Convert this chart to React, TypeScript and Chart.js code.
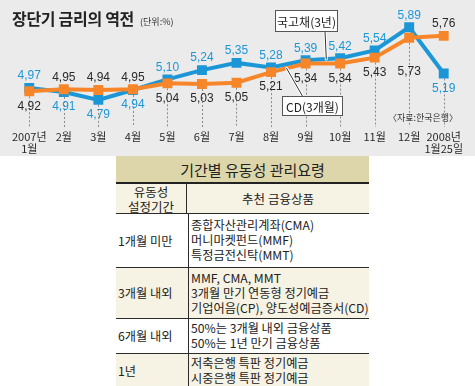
import React, { useEffect, useRef } from "react";
import { Chart, registerables } from "chart.js";

Chart.register(...registerables);

const months: (string | string[])[] = [
  ["2007년", "1월"], "2월", "3월", "4월", "5월", "6월", "7월", "8월", "9월", "10월", "11월", "12월", ["2008년", "1월25일"],
];
const treasury3y = [4.97, 4.91, 4.79, 4.94, 5.1, 5.24, 5.35, 5.28, 5.39, 5.42, 5.54, 5.89, 5.19];
const cd3m = [4.92, 4.95, 4.94, 4.95, 5.04, 5.03, 5.05, 5.21, 5.34, 5.34, 5.43, 5.73, 5.76];
const seriesNames = ["국고채(3년)", "CD(3개월)"];

const tableTitle = "기간별 유동성 관리요령";
const tableHeader = [["유동성", "설정기간"], ["추천 금융상품"]];
const tablePeriods = ["1개월 미만", "3개월 내외", "6개월 내외", "1년"];
const tableProducts = [
  ["종합자산관리계좌(CMA)", "머니마켓펀드(MMF)", "특정금전신탁(MMT)"],
  ["MMF, CMA, MMT", "3개월 만기 연동형 정기예금", "기업어음(CP), 양도성예금증서(CD)"],
  ["50%는 3개월 내외 금융상품", "50%는 1년 만기 금융상품"],
  ["저축은행 특판 정기예금", "시중은행 특판 정기예금"],
];

const BLUE = "#1b97d8";
const ORANGE = "#f7862a";
const FONT = "'Liberation Sans', 'Noto Sans CJK KR', sans-serif";
const KFONT = "'Noto Sans CJK KR', 'Liberation Sans', sans-serif";

const fmt = (v: number) => v.toFixed(2).replace(".", ",");

const overlayPlugin = {
  id: "overlay",
  beforeDatasetsDraw(chart: any) {
    const { ctx, scales } = chart;
    const x = scales.x, y = scales.y;
    ctx.save();
    ctx.strokeStyle = "#8a8a8a";
    ctx.lineWidth = 1;
    ctx.setLineDash([2, 2]);
    for (let i = 0; i < months.length; i++) {
      const px = Math.round(x.getPixelForValue(i)) + 0.5;
      const low = Math.min(treasury3y[i], cd3m[i]);
      ctx.beginPath();
      ctx.moveTo(px, y.getPixelForValue(low) + 5);
      ctx.lineTo(px, chart.chartArea.bottom + 8);
      ctx.stroke();
    }
    ctx.restore();
  },
  afterDatasetsDraw(chart: any) {
    const { ctx, scales } = chart;
    const x = scales.x, y = scales.y;
    ctx.save();
    ctx.textAlign = "center";
    ctx.textBaseline = "middle";
    ctx.font = `12px ${FONT}`;
    for (let i = 0; i < months.length; i++) {
      const px = x.getPixelForValue(i);
      const b = treasury3y[i], c = cd3m[i];
      const blueAbove = b >= c;
      const by = y.getPixelForValue(b) + (blueAbove ? -12 : 15);
      const cy = y.getPixelForValue(c) + (blueAbove ? (i === 11 ? 34 : 15) : -12);
      ctx.fillStyle = BLUE;
      ctx.fillText(fmt(b), px, by);
      ctx.fillStyle = "#2a2a2a";
      ctx.fillText(fmt(c), px, cy);
    }

    const interp = (arr: number[], i: number, t: number) => ({
      x: x.getPixelForValue(i) + t * (x.getPixelForValue(i + 1) - x.getPixelForValue(i)),
      y: y.getPixelForValue(arr[i] + t * (arr[i + 1] - arr[i])),
    });
    const leader = (x1: number, y1: number, x2: number, y2: number) => {
      ctx.lineCap = "round";
      ctx.strokeStyle = "#ffffff";
      ctx.lineWidth = 3;
      ctx.beginPath(); ctx.moveTo(x1, y1); ctx.lineTo(x2, y2); ctx.stroke();
      ctx.strokeStyle = "#333333";
      ctx.lineWidth = 1;
      ctx.beginPath(); ctx.moveTo(x1, y1); ctx.lineTo(x2, y2); ctx.stroke();
    };
    const box = (bx: number, by: number, bw: number, bh: number, text: string) => {
      ctx.fillStyle = "#ffffff";
      ctx.fillRect(bx, by, bw, bh);
      ctx.strokeStyle = "#555555";
      ctx.lineWidth = 1;
      ctx.strokeRect(bx + 0.5, by + 0.5, bw - 1, bh - 1);
      ctx.fillStyle = "#222222";
      ctx.font = `12px ${KFONT}`;
      ctx.fillText(text, bx + bw / 2, by + bh / 2 + 1);
    };
    const p1 = interp(treasury3y, 8, 0.6);
    leader(325, 31, p1.x, p1.y);
    box(275, 10, 63, 22, seriesNames[0]);
    const p2 = interp(cd3m, 7, 0.45);
    leader(303, 97, p2.x, p2.y);
    box(282, 96, 61, 20, seriesNames[1]);

    ctx.fillStyle = "#333";
    ctx.font = `9px ${KFONT}`;
    ctx.fillText("〈자료:한국은행〉", 423, 118);
    ctx.restore();
  },
};

function LineChart() {
  const ref = useRef<HTMLCanvasElement>(null);
  useEffect(() => {
    if (!ref.current) return;
    const chart = new Chart(ref.current, {
      type: "line",
      data: {
        labels: months,
        datasets: [
          {
            label: seriesNames[1],
            data: cd3m,
            borderColor: ORANGE,
            backgroundColor: ORANGE,
            borderWidth: 4,
            pointStyle: "rect",
            pointRadius: 7,
            pointBorderWidth: 0,
            tension: 0,
            order: 0,
          },
          {
            label: seriesNames[0],
            data: treasury3y,
            borderColor: BLUE,
            backgroundColor: BLUE,
            borderWidth: 4,
            pointStyle: "rect",
            pointRadius: 7,
            pointBorderWidth: 0,
            tension: 0,
            order: 1,
          },
        ],
      },
      options: {
        responsive: false,
        animation: false,
        devicePixelRatio: 1,
        layout: { padding: { top: 20, left: 20, right: 19, bottom: 0 } },
        plugins: { legend: { display: false }, tooltip: { enabled: false }, title: { display: false } },
        scales: {
          x: {
            offset: false,
            grid: { display: false, drawTicks: false },
            border: { display: false },
            ticks: {
              padding: 12,
              color: "#2a2a2a",
              font: { size: 11, family: KFONT, lineHeight: 1.1 },
              maxRotation: 0,
              autoSkip: false,
            },
            afterFit: (s: any) => { s.height = 37; },
          },
          y: { display: false, min: 4.5, max: 6.0 },
        },
      },
      plugins: [overlayPlugin],
    } as any);
    return () => chart.destroy();
  }, []);
  return <canvas ref={ref} width={475} height={156} style={{ display: "block" }} />;
}

const LINE = "1.5px solid #2b2b2b";

export default function App() {
  const rowHeights = [54, 51, 35, 33];
  const rowBg = ["#ffffff", "#f7f3e4", "#ffffff", "#f7f3e4"];
  return (
    <div style={{ position: "fixed", left: 0, top: 0, width: 475, height: 386, background: "#ffffff", overflow: "hidden", fontFamily: KFONT, color: "#222" }}>
      <div style={{ position: "absolute", left: 0, top: 0, width: 475, height: 156, background: "#ebebeb" }}>
        <LineChart />
        <div style={{ position: "absolute", left: 12, top: 6, fontSize: 16, fontWeight: 700, color: "#222", whiteSpace: "nowrap", letterSpacing: -0.3 }}>
          장단기 금리의 역전
          <span style={{ fontSize: 9, fontWeight: 400, marginLeft: 6, color: "#333", letterSpacing: 0 }}>(단위:%)</span>
        </div>
      </div>
      <div style={{ position: "absolute", left: 116, top: 156, width: 253 }}>
        <div style={{ height: 26, background: "#ddd6aa", borderBottom: "2px solid #222", display: "flex", alignItems: "center", justifyContent: "center", fontSize: 15, paddingLeft: 20, boxSizing: "content-box" }}>
          {tableTitle}
        </div>
        <div style={{ display: "flex", height: 29, background: "#f7f3e4", borderBottom: LINE, fontSize: 12.5 }}>
          <div style={{ width: 70, borderRight: "1px solid #2b2b2b", display: "flex", flexDirection: "column", alignItems: "center", justifyContent: "center", lineHeight: "15px" }}>
            {tableHeader[0].map((t) => <div key={t}>{t}</div>)}
          </div>
          <div style={{ flex: 1, display: "flex", alignItems: "center", justifyContent: "center" }}>{tableHeader[1][0]}</div>
        </div>
        {tablePeriods.map((p, i) => (
          <div key={p} style={{ display: "flex", height: rowHeights[i], background: rowBg[i], borderBottom: i < 3 ? LINE : "none", fontSize: 12.2, boxSizing: "border-box" }}>
            <div style={{ width: 70, borderRight: "1px solid #2b2b2b", display: "flex", alignItems: "center", paddingLeft: 2 }}>{p}</div>
            <div style={{ flex: 1, display: "flex", flexDirection: "column", justifyContent: "center", paddingLeft: 2, lineHeight: "15px", whiteSpace: "nowrap" }}>
              {tableProducts[i].map((t) => <div key={t}>{t}</div>)}
            </div>
          </div>
        ))}
      </div>
    </div>
  );
}
